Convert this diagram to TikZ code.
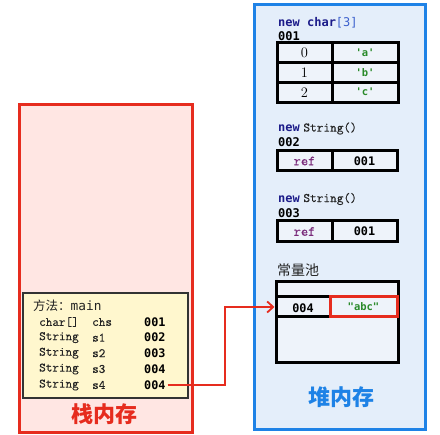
\documentclass[tikz,border=0pt]{standalone}
\usepackage{fontspec}
\newfontfamily\cjk{Noto Sans CJK SC}
\newfontfamily\dvm{DejaVu Sans Mono}
\newfontfamily\lmm{Latin Modern Mono}
\newfontfamily\lmmb[FakeBold=0.25]{Latin Modern Mono}
\usetikzlibrary{arrows.meta}
\definecolor{stackred}{HTML}{E62C1E}
\definecolor{stackfill}{HTML}{FFE6E3}
\definecolor{methodfill}{HTML}{FFF7CE}
\definecolor{heapblue}{HTML}{1E82E6}
\definecolor{heapfill}{HTML}{E4EEFA}
\definecolor{cellfill}{HTML}{EEF3FA}
\definecolor{kwnavy}{HTML}{1C1C8A}
\definecolor{brblue}{HTML}{3A5FCD}
\definecolor{refpurple}{HTML}{7A2A7A}
\definecolor{strgreen}{HTML}{2A8A2A}
\definecolor{txtgray}{HTML}{222222}
\tikzset{
  code/.style={anchor=west,inner sep=0pt,font=\lmmb\fontsize{12.8}{14}\selectfont,text=txtgray},
  val/.style={anchor=west,inner sep=0pt,font=\dvm\bfseries\fontsize{11.8}{13}\selectfont,text=black},
  lbl/.style={anchor=west,inner sep=0pt,font=\dvm\bfseries\fontsize{12}{13}\selectfont,text=black},
  cell/.style={draw=black,line width=3pt,inner sep=0pt},
  serifnum/.style={font=\fontsize{14.5}{16}\selectfont},
  chr/.style={font=\dvm\bfseries\fontsize{10.5}{12}\selectfont,text=strgreen},
  reftxt/.style={font=\lmmb\fontsize{14}{15}\selectfont,text=refpurple},
  title/.style={font=\cjk\bfseries\fontsize{22}{24}\selectfont,inner sep=0pt},
}
\begin{document}
\begin{tikzpicture}[x=1pt,y=-1pt]
\useasboundingbox (0,0) rectangle (440,435);
% stack
\draw[stackred,line width=3pt,fill=stackfill] (19,105) rectangle (192,433);
\draw[black!80,line width=1.4pt,fill=methodfill] (23,293) rectangle (188,398);
\node[code,anchor=west] (mname) at (33,306) {{\cjk\fontsize{12.5}{14}\selectfont 方法：}{\dvm main}};
\node[code] (t0) at (39,322) {char[]};
\node[code] (n0) at (92,322) {chs};
\node[val] (v0) at (144,322) {001};
\node[code] (t1) at (39,337.6) {String};
\node[code] (n1) at (92,337.6) {s1};
\node[val] (v1) at (144,337.6) {002};
\node[code] (t2) at (39,353.2) {String};
\node[code] (n2) at (92,353.2) {s2};
\node[val] (v2) at (144,353.2) {003};
\node[code] (t3) at (39,369) {String};
\node[code] (n3) at (92,369) {s3};
\node[val] (v3) at (144,369) {004};
\node[code] (t4) at (39,385) {String};
\node[code] (n4) at (92,385) {s4};
\node[val] (v4) at (144,385) {004};
\node[title,text=stackred] (stacktitle) at (104,414) {栈内存};
% heap
\draw[heapblue,line width=3pt,fill=heapfill] (254,5) rectangle (425,430);
\node[lbl] (h1) at (278,23) {\textcolor{kwnavy}{new char}{\dvm\mdseries\textcolor{brblue}{[3]}}};
\node[lbl] (a1) at (278,36) {001};
\fill[cellfill] (277,43) rectangle (398,102);
\node[cell,minimum width=55pt,minimum height=19.7pt] (c0) at (304.5,52.8) {};
\node[cell,minimum width=66pt,minimum height=19.7pt] (d0) at (365,52.8) {};
\node[cell,minimum width=55pt,minimum height=19.7pt] (c1) at (304.5,72.5) {};
\node[cell,minimum width=66pt,minimum height=19.7pt] (d1) at (365,72.5) {};
\node[cell,minimum width=55pt,minimum height=19.7pt] (c2) at (304.5,92.2) {};
\node[cell,minimum width=66pt,minimum height=19.7pt] (d2) at (365,92.2) {};
\node[serifnum] at (c0) {0};
\node[serifnum] at (c1) {1};
\node[serifnum] at (c2) {2};
\node[chr] at (d0) {'a'};
\node[chr] at (d1) {'b'};
\node[chr] at (d2) {'c'};
% string 1
\node[lbl] (h2) at (278,128.5) {\textcolor{kwnavy}{new}\hspace{3.5pt}{\lmmb\mdseries\fontsize{13}{14}\selectfont\textcolor{txtgray}{String()}}};
\node[lbl] (a2) at (278,142.5) {002};
\fill[cellfill] (277,151) rectangle (397,171);
\node[cell,minimum width=55pt,minimum height=20pt] (r1) at (304.5,161) {};
\node[cell,minimum width=65pt,minimum height=20pt] (p1) at (364.5,161) {};
\node[reftxt] at (r1) {ref};
\node[val,anchor=center] at (p1) {001};
% string 2
\node[lbl] (h3) at (278,199) {\textcolor{kwnavy}{new}\hspace{3.5pt}{\lmmb\mdseries\fontsize{13}{14}\selectfont\textcolor{txtgray}{String()}}};
\node[lbl] (a3) at (278,213) {003};
\fill[cellfill] (277,221) rectangle (397,242);
\node[cell,minimum width=55pt,minimum height=21pt] (r2) at (304.5,231.5) {};
\node[cell,minimum width=65pt,minimum height=21pt] (p2) at (364.5,231.5) {};
\node[reftxt] at (r2) {ref};
\node[val,anchor=center] at (p2) {001};
% pool
\node[anchor=west,inner sep=0pt,font=\cjk\fontsize{14}{15}\selectfont,text=txtgray] (pooltitle) at (277,270) {常量池};
\draw[black,line width=3pt,fill=cellfill] (276,282) rectangle (398,363);
\node[draw=black,line width=3pt,minimum width=122pt,minimum height=20pt,inner sep=0pt] (poolrow) at (337,307) {};
\node[val,anchor=center] (p004) at (303,308) {004};
\node[draw=stackred,line width=3pt,minimum width=67pt,minimum height=20pt,inner sep=0pt,chr] (pabc) at (363.5,307) {"abc"};
\node[title,text=heapblue] (heaptitle) at (341,397) {堆内存};
% connector
\coordinate (bend) at (223,0);
\draw[stackred,line width=1.8pt,-{Straight Barb[length=6pt,width=11pt]}] ([xshift=2pt]v4.east) -- ([xshift=2pt]v4.east -| bend) |- (poolrow.west);
\end{tikzpicture}
\end{document}
